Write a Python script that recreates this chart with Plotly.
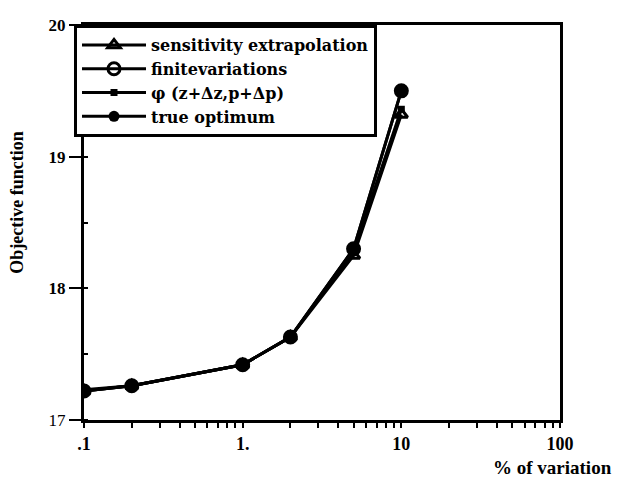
import plotly.graph_objects as go

variation = [0.1, 0.2, 1, 2, 5, 10]
sensitivity = [17.22, 17.26, 17.42, 17.63, 18.25, 19.32]
finite = [17.22, 17.26, 17.42, 17.63, 18.30, 19.50]
phi = [17.23, 17.26, 17.42, 17.63, 18.28, 19.36]
true_opt = [17.22, 17.26, 17.42, 17.63, 18.30, 19.50]

x_tickvals = [0.1, 1, 10, 100]
x_ticktext = ["<b>.1</b>", "<b>1.</b>", "<b>10</b>", "<b>100</b>"]
y_tickvals = [17, 18, 19, 20]
y_ticktext = ["17", "<b>18</b>", "<b>19</b>", "<b>20</b>"]

font_family = "Liberation Serif"
legend_family = "DejaVu Serif"

fig = go.Figure()
fig.add_trace(go.Scatter(x=variation, y=sensitivity, mode="lines+markers",
                         name="sensitivity extrapolation",
                         line=dict(color="black", width=3),
                         marker=dict(symbol="triangle-up-open", size=11, color="black",
                                     line=dict(width=3, color="black"))))
fig.add_trace(go.Scatter(x=variation, y=finite, mode="lines+markers",
                         name="finitevariations",
                         line=dict(color="black", width=3),
                         marker=dict(symbol="circle-open", size=12, color="black",
                                     line=dict(width=3, color="black"))))
fig.add_trace(go.Scatter(x=variation, y=phi, mode="lines+markers",
                         name="φ (z+Δz,p+Δp)",
                         line=dict(color="black", width=3),
                         marker=dict(symbol="square", size=7, color="black")))
fig.add_trace(go.Scatter(x=variation, y=true_opt, mode="lines+markers",
                         name="true optimum",
                         line=dict(color="black", width=3),
                         marker=dict(symbol="circle", size=11, color="black")))

fig.update_layout(
    width=617, height=474,
    margin=dict(l=76, r=65, t=8, b=62),
    paper_bgcolor="white", plot_bgcolor="white",
    font=dict(family=font_family, color="black", size=16),
    showlegend=True,
    legend=dict(x=-0.021, y=1, xanchor="left", yanchor="top",
                bordercolor="black", borderwidth=3, bgcolor="white",
                font=dict(family=legend_family, size=16, weight="bold", color="black"),
                tracegroupgap=0, itemwidth=64),
    xaxis=dict(type="log", range=[-1, 2], tickvals=x_tickvals, ticktext=x_ticktext,
               ticks="outside", ticklen=5, tickwidth=2, tickcolor="black",
               showline=True, linewidth=3, linecolor="black", mirror=True,
               showgrid=False, zeroline=False,
               tickfont=dict(family=font_family, size=18),
               minor=dict(ticks="outside", ticklen=5, tickwidth=2, tickcolor="black",
                          showgrid=False, dtick="D1")),
    yaxis=dict(range=[17, 20], tickvals=y_tickvals, ticktext=y_ticktext,
               ticks="outside", ticklen=12, tickwidth=2, tickcolor="black",
               showline=True, linewidth=3, linecolor="black", mirror=True,
               showgrid=False, zeroline=False,
               tickfont=dict(family=font_family, size=17),
               minor=dict(ticks="inside", ticklen=4, tickwidth=2, tickcolor="black",
                          dtick=0.5, showgrid=False)),
    annotations=[
        dict(text="<b>% of variation</b>", xref="paper", yref="paper",
             x=0.985, y=-0.119, xanchor="center", yanchor="middle", showarrow=False,
             font=dict(family=font_family, size=19, color="black")),
        dict(text="<b>Objective function</b>", xref="paper", yref="paper",
             x=-0.141, y=0.55, xanchor="center", yanchor="middle", showarrow=False,
             textangle=-90, font=dict(family=font_family, size=18, color="black")),
    ],
)

fig.write_html("out.html")
